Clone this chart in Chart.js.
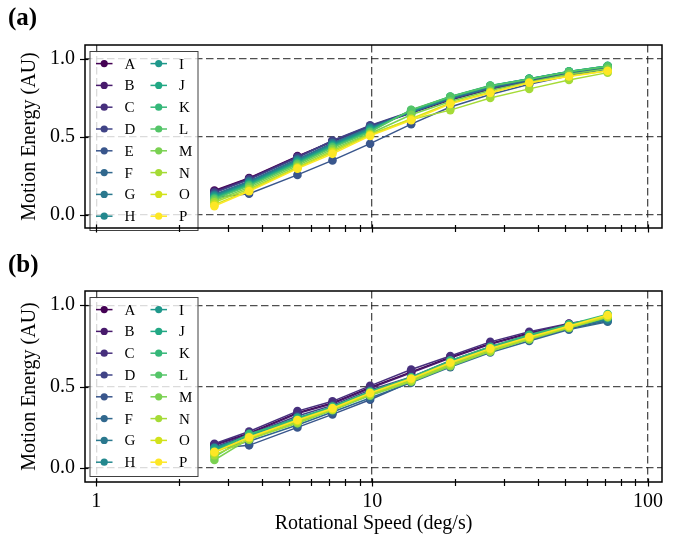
<!DOCTYPE html>
<html>
<head>
<meta charset="utf-8">
<script src="https://cdn.jsdelivr.net/npm/chart.js@4.4.0/dist/chart.umd.min.js"></script>
<style>
  body { margin: 0; background: #fff; }
  #page { position: relative; width: 683px; height: 542px; overflow: hidden; }
  .panel { position: absolute; left: 0; width: 683px; }
  .tag { position: absolute; left: 8px; z-index: 2; font: bold 25px 'Liberation Serif', 'Times New Roman', serif; line-height: 1; }
</style>
</head>
<body>
<div id="page">
  <div class="panel" style="top:0;height:250px"><canvas id="chartA"></canvas></div>
  <div class="panel" style="top:250px;height:292px"><canvas id="chartB"></canvas></div>
  <div class="tag" style="top:4px">(a)</div>
  <div class="tag" style="top:251px">(b)</div>
</div>
<script>
        // Data
        const speeds = [2.68, 3.58, 5.36, 7.18, 9.83, 13.85, 19.2, 26.8, 37.1, 51.7, 71.4];
        const seriesNames = ['A', 'B', 'C', 'D', 'E', 'F', 'G', 'H', 'I', 'J', 'K', 'L', 'M', 'N', 'O', 'P'];
        const viridis16 = ['#440154', '#481a6c', '#472f7d', '#414487', '#39568c', '#31688e', '#2a788e', '#23888e',
                           '#1f988b', '#22a884', '#35b779', '#54c568', '#7ad151', '#a5db36', '#d2e21b', '#fde725'];

        const energyA = [
            [0.155, 0.235, 0.375, 0.470, 0.565, 0.655, 0.738, 0.806, 0.856, 0.903, 0.936],  // A
            [0.150, 0.232, 0.372, 0.468, 0.562, 0.652, 0.735, 0.804, 0.854, 0.902, 0.935],  // B
            [0.145, 0.228, 0.370, 0.472, 0.568, 0.658, 0.740, 0.808, 0.858, 0.905, 0.938],  // C
            [0.140, 0.225, 0.365, 0.475, 0.572, 0.662, 0.742, 0.810, 0.860, 0.906, 0.940],  // D
            [0.110, 0.135, 0.255, 0.348, 0.455, 0.580, 0.690, 0.770, 0.835, 0.890, 0.935],  // E
            [0.130, 0.215, 0.355, 0.460, 0.560, 0.655, 0.742, 0.812, 0.862, 0.910, 0.943],  // F
            [0.125, 0.210, 0.350, 0.455, 0.555, 0.660, 0.748, 0.818, 0.868, 0.914, 0.948],  // G
            [0.120, 0.205, 0.345, 0.450, 0.550, 0.662, 0.750, 0.822, 0.870, 0.916, 0.950],  // H
            [0.115, 0.200, 0.340, 0.445, 0.545, 0.665, 0.752, 0.824, 0.871, 0.917, 0.952],  // I
            [0.110, 0.195, 0.335, 0.440, 0.540, 0.668, 0.755, 0.826, 0.871, 0.918, 0.953],  // J
            [0.105, 0.190, 0.330, 0.435, 0.535, 0.670, 0.757, 0.827, 0.870, 0.917, 0.952],  // K
            [0.100, 0.185, 0.325, 0.430, 0.530, 0.672, 0.755, 0.825, 0.868, 0.915, 0.950],  // L
            [0.090, 0.175, 0.315, 0.420, 0.520, 0.640, 0.725, 0.795, 0.850, 0.900, 0.935],  // M
            [0.080, 0.165, 0.305, 0.410, 0.515, 0.610, 0.670, 0.748, 0.806, 0.863, 0.910],  // N
            [0.065, 0.155, 0.300, 0.400, 0.510, 0.615, 0.715, 0.785, 0.845, 0.888, 0.922],  // O
            [0.055, 0.150, 0.295, 0.390, 0.505, 0.605, 0.710, 0.780, 0.845, 0.885, 0.920]   // P
        ];

        const energyB = [
            [0.145, 0.215, 0.340, 0.400, 0.495, 0.590, 0.680, 0.765, 0.830, 0.885, 0.925],  // A
            [0.140, 0.210, 0.335, 0.395, 0.490, 0.585, 0.675, 0.760, 0.825, 0.880, 0.922],  // B
            [0.150, 0.225, 0.350, 0.410, 0.505, 0.605, 0.688, 0.775, 0.837, 0.888, 0.928],  // C
            [0.130, 0.205, 0.320, 0.385, 0.480, 0.560, 0.660, 0.745, 0.815, 0.875, 0.920],  // D
            [0.120, 0.140, 0.250, 0.330, 0.420, 0.530, 0.630, 0.720, 0.790, 0.855, 0.905],  // E
            [0.110, 0.165, 0.265, 0.345, 0.430, 0.525, 0.620, 0.710, 0.780, 0.850, 0.898],  // F
            [0.115, 0.185, 0.290, 0.360, 0.450, 0.545, 0.640, 0.730, 0.800, 0.862, 0.910],  // G
            [0.125, 0.195, 0.300, 0.370, 0.460, 0.550, 0.650, 0.735, 0.805, 0.866, 0.915],  // H
            [0.120, 0.200, 0.305, 0.372, 0.465, 0.552, 0.655, 0.740, 0.810, 0.870, 0.930],  // I
            [0.110, 0.205, 0.310, 0.375, 0.468, 0.555, 0.658, 0.742, 0.815, 0.878, 0.938],  // J
            [0.100, 0.210, 0.300, 0.378, 0.470, 0.558, 0.660, 0.745, 0.818, 0.882, 0.945],  // K
            [0.070, 0.195, 0.285, 0.365, 0.455, 0.540, 0.640, 0.725, 0.800, 0.868, 0.935],  // L
            [0.050, 0.180, 0.275, 0.355, 0.445, 0.530, 0.625, 0.715, 0.790, 0.860, 0.925],  // M
            [0.080, 0.175, 0.280, 0.358, 0.450, 0.535, 0.632, 0.718, 0.792, 0.862, 0.928],  // N
            [0.095, 0.185, 0.290, 0.362, 0.458, 0.545, 0.642, 0.728, 0.800, 0.868, 0.932],  // O
            [0.100, 0.190, 0.295, 0.368, 0.462, 0.550, 0.648, 0.735, 0.805, 0.872, 0.940]   // P
        ];

        const xMajorTicks = [1, 10, 100];
        const xMinorTicks = [2, 3, 4, 5, 6, 7, 8, 9, 20, 30, 40, 50, 60, 70, 80, 90];
        const yTicks = [0, 0.5, 1.0];

        const FONT = "'Liberation Serif', 'Times New Roman', serif";
        const gridColor = 'rgba(35, 35, 35, 0.8)';

        // Frame + matplotlib style 'inout' ticks
        const frameTicks = {
            id: 'frameTicks',
            afterDraw(chart) {
                const { ctx, chartArea: a, scales } = chart;
                ctx.save();
                ctx.strokeStyle = '#000';
                ctx.lineWidth = 1.2;
                xMajorTicks.concat(xMinorTicks).forEach(v => {
                    const px = Math.round(scales.x.getPixelForValue(v)) + 0.5;
                    const major = xMajorTicks.includes(v);
                    ctx.beginPath();
                    ctx.moveTo(px, a.bottom - (major ? 3.5 : 3));
                    ctx.lineTo(px, a.bottom + (major ? 4.5 : 4));
                    ctx.stroke();
                });
                yTicks.forEach(v => {
                    const py = Math.round(scales.y.getPixelForValue(v)) + 0.5;
                    ctx.beginPath();
                    ctx.moveTo(a.left - 5, py);
                    ctx.lineTo(a.left + 3.5, py);
                    ctx.stroke();
                });
                ctx.lineWidth = 1.5;
                ctx.strokeRect(a.left, a.top, a.right - a.left, a.bottom - a.top);
                ctx.restore();
            }
        };

        // Two-column legend in the upper left corner
        const boxLegend = {
            id: 'boxLegend',
            afterDatasetsDraw(chart) {
                const { ctx, chartArea: a } = chart;
                const left = a.left + 4.5, top = a.top + 6;
                ctx.save();
                ctx.fillStyle = 'rgba(255,255,255,0.8)';
                ctx.fillRect(left, top, 109, 180);
                ctx.strokeStyle = 'rgba(30,30,30,0.85)';
                ctx.lineWidth = 1;
                ctx.strokeRect(left + 0.5, top + 0.5, 108, 179);
                ctx.font = '15px ' + FONT;
                ctx.textBaseline = 'middle';
                chart.data.datasets.forEach((ds, i) => {
                    const col = Math.floor(i / 8), row = i % 8;
                    const x0 = left + 6.5 + col * 54.5;
                    const y = top + 12.6 + row * 21.8;
                    ctx.strokeStyle = ds.borderColor;
                    ctx.lineWidth = 1.5;
                    ctx.beginPath();
                    ctx.moveTo(x0, y);
                    ctx.lineTo(x0 + 16.5, y);
                    ctx.stroke();
                    ctx.fillStyle = ds.borderColor;
                    ctx.beginPath();
                    ctx.arc(x0 + 8.2, y, 3.6, 0, Math.PI * 2);
                    ctx.fill();
                    ctx.fillStyle = '#000';
                    ctx.fillText(ds.label, x0 + 28.5, y + 1);
                });
                ctx.restore();
            }
        };

        function makeDatasets(values) {
            return values.map((row, i) => ({
                label: seriesNames[i],
                data: row.map((v, j) => ({ x: speeds[j], y: v })),
                borderColor: viridis16[i],
                backgroundColor: viridis16[i],
                borderWidth: 1.5,
                pointRadius: 4.3,
                pointBorderWidth: 0,
                tension: 0,
                order: values.length - i   // later series drawn on top, like matplotlib
            }));
        }

        function buildChart(canvasId, values, showX, padTop, xHeight) {
            const ctx = document.getElementById(canvasId).getContext('2d');
            return new Chart(ctx, {
                type: 'line',
                data: { datasets: makeDatasets(values) },
                options: {
                    responsive: true,
                    maintainAspectRatio: false,
                    animation: false,
                    events: [],
                    layout: { padding: { left: 0, right: 21, top: padTop, bottom: 0 } },
                    plugins: { legend: { display: false }, tooltip: { enabled: false } },
                    scales: {
                        x: {
                            type: 'logarithmic',
                            min: 0.91,
                            max: 112.4,
                            afterBuildTicks: s => {
                                s.ticks = xMajorTicks.concat(xMinorTicks).map(v => ({ value: v }));
                            },
                            afterFit: s => { s.height = xHeight; },
                            border: { display: false, dash: [7.5, 3.5] },
                            grid: {
                                drawTicks: false,
                                lineWidth: 1.3,
                                color: c => (c.tick && xMajorTicks.includes(c.tick.value)) ? gridColor : 'rgba(0,0,0,0)'
                            },
                            ticks: {
                                display: showX,
                                autoSkip: false,
                                maxRotation: 0,
                                padding: 8,
                                color: '#000',
                                font: { family: FONT, size: 20 },
                                callback: v => xMajorTicks.includes(v) ? String(v) : ''
                            },
                            title: {
                                display: showX,
                                text: 'Rotational Speed (deg/s)',
                                color: '#000',
                                font: { family: FONT, size: 20 },
                                padding: { top: 0, bottom: 6 }
                            }
                        },
                        y: {
                            min: -0.085,
                            max: 1.087,
                            afterBuildTicks: s => { s.ticks = yTicks.map(v => ({ value: v })); },
                            afterFit: s => { s.width = 85; },
                            border: { display: false, dash: [7.5, 3.5] },
                            grid: {
                                drawTicks: false,
                                lineWidth: 1.3,
                                color: gridColor
                            },
                            ticks: {
                                padding: 10,
                                color: '#000',
                                font: { family: FONT, size: 20 },
                                callback: v => v.toFixed(1)
                            },
                            title: {
                                display: true,
                                text: 'Motion Energy (AU)',
                                color: '#000',
                                font: { family: FONT, size: 20 },
                                padding: { top: 18, bottom: 4 }
                            }
                        }
                    }
                },
                plugins: [frameTicks, boxLegend]
            });
        }

        buildChart('chartA', energyA, false, 45, 14);
        buildChart('chartB', energyB, true, 41, 60);
</script>
</body>
</html>
